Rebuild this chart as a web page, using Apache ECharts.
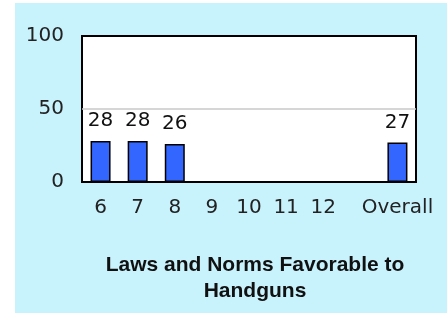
<!DOCTYPE html>
<html>
<head>
<meta charset="utf-8">
<script src="https://cdn.jsdelivr.net/npm/echarts@6/dist/echarts.min.js"></script>
<style>html,body{margin:0;padding:0;background:#fff}#c{width:447px;height:316px}</style>
</head>
<body>
<div id="c"></div>
<script>
var categories = ['6', '7', '8', '9', '10', '11', '12', '', 'Overall'];
var values = [28, 28, 26, 0, 0, 0, 0, null, 27];
var yTicks = [0, 50, 100];
var titleText = 'Laws and Norms Favorable to\nHandguns';

var chart = echarts.init(document.getElementById('c'), null, {renderer: 'canvas'});
chart.setOption({
  backgroundColor: '#ffffff',
  animation: false,
  graphic: [{
    type: 'rect', z: -10, silent: true,
    shape: {x: 15, y: 3, width: 432, height: 310},
    style: {fill: '#C8F2FC'}
  }],
  title: {
    text: titleText,
    left: 250, top: 247, textAlign: 'center',
    textStyle: {fontFamily: 'Liberation Sans', fontSize: 21, fontWeight: 'bold', color: '#111', lineHeight: 26}
  },
  grid: {
    left: 82, top: 36, right: 31, bottom: 134,
    show: true, backgroundColor: '#ffffff', borderColor: '#000', borderWidth: 2
  },
  xAxis: {
    type: 'category', data: categories,
    axisLine: {show: false}, axisTick: {show: false},
    axisLabel: {fontFamily: 'DejaVu Sans', fontSize: 20, color: '#222', margin: 16, interval: 0}
  },
  yAxis: {
    type: 'value', min: yTicks[0], max: yTicks[yTicks.length - 1], interval: 50,
    axisLine: {show: false}, axisTick: {show: false},
    axisLabel: {fontFamily: 'DejaVu Sans', fontSize: 20, color: '#222', margin: 18},
    splitLine: {show: true, lineStyle: {color: ['rgba(0,0,0,0)', '#c8c8c8', 'rgba(0,0,0,0)'], width: 1.5}}
  },
  series: [{
    type: 'bar', data: values, barWidth: 20,
    itemStyle: {color: '#3366FF', borderColor: '#000', borderWidth: 1.5},
    label: {
      show: true, position: 'top', distance: 10,
      fontFamily: 'DejaVu Sans', fontSize: 20, color: '#111',
      formatter: function (p) { return p.value ? String(p.value) : ''; }
    }
  }]
});
</script>
</body>
</html>
